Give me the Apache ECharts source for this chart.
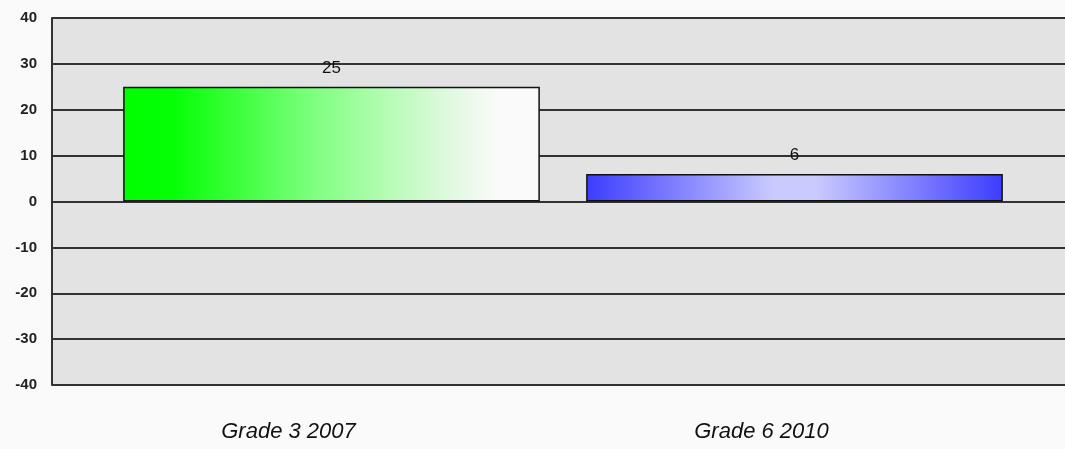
<!DOCTYPE html>
<html>
<head>
<meta charset="utf-8">
<script src="https://cdn.jsdelivr.net/npm/echarts@6/dist/echarts.min.js"></script>
<style>
  html, body {margin: 0; padding: 0; background: #fafafa;}
  #chart {width: 1065px; height: 449px;}
</style>
</head>
<body>
<div id="chart"></div>
<script>
// chart data
var categories = ['Grade 3 2007', 'Grade 6 2010'];
var values = [25, 6];
var yMin = -40, yMax = 40, yStep = 10;

var greenFill = new echarts.graphic.LinearGradient(0, 0, 1, 0, [
    {offset: 0, color: '#00ff00'},
    {offset: 0.12, color: '#06ff06'},
    {offset: 0.46, color: '#80ff80'},
    {offset: 0.75, color: '#d8f9d8'},
    {offset: 0.9, color: '#fafafa'},
    {offset: 1, color: '#fafafa'}
]);
var blueFill = new echarts.graphic.LinearGradient(0, 0, 1, 0, [
    {offset: 0, color: '#3c3cff'},
    {offset: 0.45, color: '#cacaff'},
    {offset: 0.55, color: '#cacaff'},
    {offset: 1, color: '#3c3cff'}
]);
var fills = [greenFill, blueFill];

var gridTop = 18, gridBottom = 64;

var option = {
    backgroundColor: '#fafafa',
    animation: false,
    grid: [
        // background + y axis
        {left: 52, right: 0, top: gridTop, bottom: gridBottom, show: true, backgroundColor: '#e3e3e3', borderWidth: 0},
        // category labels
        {left: 52, width: 946, top: gridTop, bottom: gridBottom},
        // bars
        {left: 100, width: 926, top: gridTop, bottom: gridBottom}
    ],
    xAxis: [
        {gridIndex: 0, type: 'category', data: categories, show: false},
        {
            gridIndex: 1, type: 'category', data: categories,
            axisLine: {show: false}, axisTick: {show: false},
            axisLabel: {margin: 36, fontSize: 22, fontStyle: 'italic', color: '#111', fontFamily: 'Liberation Sans'}
        },
        {gridIndex: 2, type: 'category', data: categories, show: false}
    ],
    yAxis: [
        {
            gridIndex: 0, type: 'value', min: yMin, max: yMax, interval: yStep,
            axisLine: {show: true, lineStyle: {color: '#333', width: 2}},
            axisTick: {show: false},
            splitLine: {lineStyle: {color: '#333', width: 2}},
            axisLabel: {margin: 15, fontSize: 15, fontWeight: 'bold', color: '#222', fontFamily: 'Liberation Sans'}
        },
        {gridIndex: 1, type: 'value', min: yMin, max: yMax, show: false},
        {gridIndex: 2, type: 'value', min: yMin, max: yMax, show: false}
    ],
    series: [{
        type: 'bar',
        xAxisIndex: 2,
        yAxisIndex: 2,
        barCategoryGap: '10%',
        data: values.map(function (v, i) {
            return {value: v, itemStyle: {color: fills[i]}};
        }),
        itemStyle: {borderColor: '#111', borderWidth: 1.5},
        label: {
            show: true, position: 'top', distance: 10,
            fontSize: 17, color: '#111', fontFamily: 'Liberation Sans'
        }
    }]
};

var e = echarts.init(document.getElementById('chart'));
e.setOption(option);
</script>
</body>
</html>
